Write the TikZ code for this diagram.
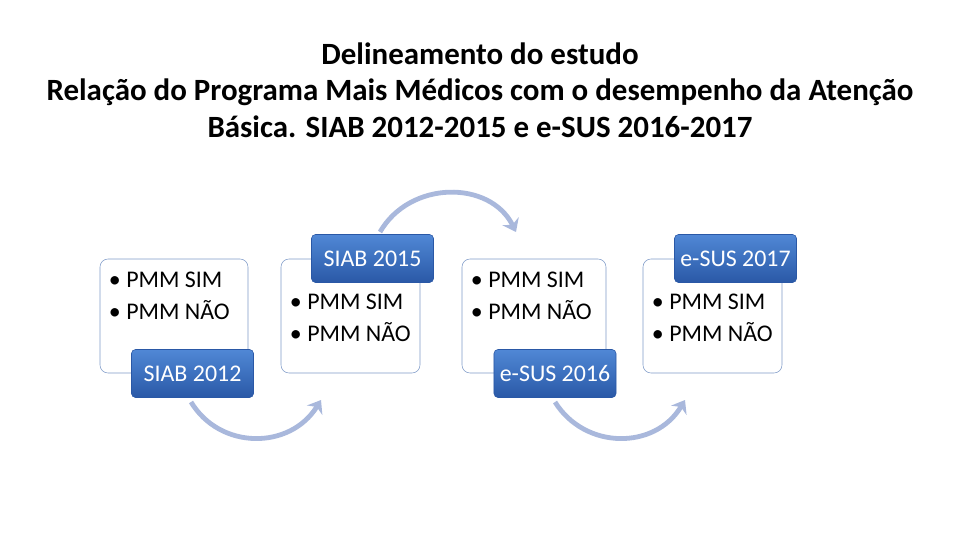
\documentclass[tikz,border=0pt]{standalone}
\usepackage{fontspec}
\setmainfont{Carlito}
\usetikzlibrary{arrows.meta}
\definecolor{lineblue}{HTML}{7F9BC8}
\definecolor{arcblue}{HTML}{A9B8DC}
\definecolor{tagtop}{HTML}{5088D6}
\definecolor{tagbot}{HTML}{2A58A6}
\begin{document}
\begin{tikzpicture}[x=0.025cm, y=-0.025cm,
            card/.style = {draw=lineblue, rounded corners=2mm, fill=white},
            tag/.style = {rounded corners=1mm, top color=tagtop, bottom color=tagbot,
                          draw=tagbot, text=white, font=\fontsize{17}{19}\selectfont,
                          minimum width=3.05cm, minimum height=1.2cm},
            item/.style = {anchor=north west, align=left, font=\fontsize{17}{23}\selectfont},
            arc/.style = {draw=arcblue, line width=1.2mm, -{Stealth[length=3mm, width=4.5mm]}},
        ]
        \useasboundingbox (0,0) rectangle (960,540);
        \node (title) [align=center, font=\bfseries\fontsize{22}{26}\selectfont] at (480,90)
            {Delineamento do estudo\\Relação do Programa Mais Médicos com o desempenho da Atenção\\Básica. SIAB 2012-2015 e e-SUS 2016-2017};

        \draw[card] (100,259) rectangle (248,373);
        \draw[card] (281,259) rectangle (420,373);
        \draw[card] (462,259) rectangle (606,373);
        \draw[card] (643,259) rectangle (782,373);

        \node (l1) [item] at (104,267) {• PMM SIM\\• PMM NÃO};
        \node (l2) [item] at (285,289) {• PMM SIM\\• PMM NÃO};
        \node (l3) [item] at (466,267) {• PMM SIM\\• PMM NÃO};
        \node (l4) [item] at (647,289) {• PMM SIM\\• PMM NÃO};

        \node (s12) [tag] at (192.5,373.5) {SIAB 2012};
        \node (s15) [tag] at (372.5,258.5) {SIAB 2015};
        \node (e16) [tag] at (555,373.5) {e-SUS 2016};
        \node (e17) [tag] at (735.5,258.5) {e-SUS 2017};

        \path[arc] (191,402) .. controls (220,450) and (290,450) .. (321,400);
        \path[arc] (380,232) .. controls (410,180) and (490,180) .. (516,232);
        \path[arc] (555,402) .. controls (585,450) and (655,450) .. (685,400);
    \end{tikzpicture}
\end{document}
